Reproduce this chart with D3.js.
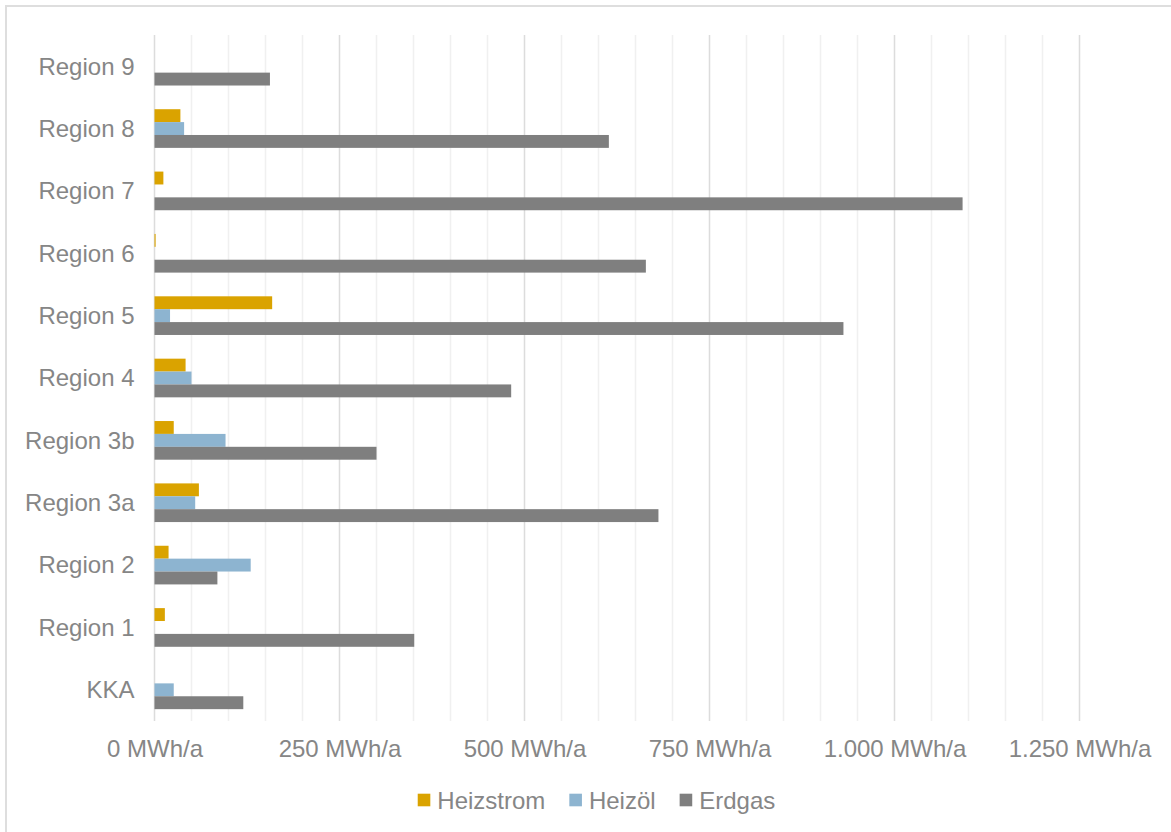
<!DOCTYPE html>
<html lang="de">
<head>
<meta charset="utf-8">
<title>Wärmebedarf nach Energieträger und Region</title>
<script src="https://cdn.jsdelivr.net/npm/d3@7"></script>
<style>
  html, body { margin: 0; padding: 0; background: #ffffff; }
  svg { display: block; }
  text { font-family: "Liberation Sans", Arial, sans-serif; fill: #868686; }
</style>
</head>
<body>
<svg id="chart" width="1171" height="832"></svg>
<script>
// Regions, listed top to bottom
const categories = ["Region 9", "Region 8", "Region 7", "Region 6", "Region 5", "Region 4",
                    "Region 3b", "Region 3a", "Region 2", "Region 1", "KKA"];
// Annual demand per energy carrier, MWh/a
const heizstrom = [0, 35, 12, 1.5, 159, 42, 26, 60, 19, 14, 0];
const heizoel   = [0, 40, 0, 0, 21, 50, 96, 55, 130, 0, 26];
const erdgas    = [156, 614, 1092, 664, 931, 482, 300, 681, 85, 351, 120];
const seriesNames = ["Heizstrom", "Heizöl", "Erdgas"];
const xTicks = [0, 250, 500, 750, 1000, 1250];

const seriesValues = [heizstrom, heizoel, erdgas];
const colors = d3.scaleOrdinal().domain(seriesNames).range(["#daa300", "#8db4d0", "#7f7f7f"]);

const fontSize = 24;
const plot = { left: 154.5, right: 1079.5, top: 35, bottom: 721 };

const svg = d3.select("#chart");

// Outer chart frame
svg.append("rect")
  .attr("x", 6).attr("y", 6)
  .attr("width", 1300).attr("height", 1000)
  .attr("fill", "none")
  .attr("stroke", "#dedede")
  .attr("stroke-width", 2);

const x = d3.scaleLinear().domain([0, 1250]).range([plot.left, plot.right]);
const y0 = d3.scaleBand().domain(categories).range([plot.top, plot.bottom])
  .paddingInner(0.38).paddingOuter(0.19);
const y1 = d3.scaleBand().domain(seriesNames).range([0, y0.bandwidth()]);

// Vertical gridlines: light minor lines every 50, darker major lines every 250
const gridVals = d3.range(0, 1251, 50);
svg.append("g").selectAll("line")
  .data(gridVals)
  .join("line")
  .attr("x1", d => x(d)).attr("x2", d => x(d))
  .attr("y1", plot.top).attr("y2", plot.bottom)
  .attr("stroke", d => d % 250 === 0 ? "#dcdcdc" : "#f0f0f0")
  .attr("stroke-width", 1.5);

// Bars
const rows = categories.map((c, i) => ({
  category: c,
  values: seriesNames.map((s, j) => ({ series: s, value: seriesValues[j][i] }))
}));

const groups = svg.append("g").selectAll("g")
  .data(rows)
  .join("g")
  .attr("transform", d => `translate(0,${y0(d.category)})`);

groups.selectAll("rect")
  .data(d => d.values)
  .join("rect")
  .attr("x", x(0))
  .attr("y", d => y1(d.series))
  .attr("width", d => x(d.value) - x(0))
  .attr("height", y1.bandwidth())
  .attr("fill", d => colors(d.series));

// German number format: 1.000
const de = d3.formatLocale({ decimal: ",", thousands: ".", grouping: [3], currency: ["", " €"] });
const fmt = de.format(",");

// Value axis labels
const xAxis = svg.append("g")
  .attr("transform", `translate(0,${plot.bottom})`)
  .call(d3.axisBottom(x).tickValues(xTicks).tickSize(0).tickFormat(d => fmt(d) + " MWh/a"));
xAxis.select(".domain").remove();
xAxis.selectAll("text")
  .attr("y", 36).attr("dy", 0)
  .style("font-size", fontSize + "px")
  .attr("fill", "#868686");

// Category labels
const yAxis = svg.append("g")
  .attr("transform", `translate(${plot.left},0)`)
  .call(d3.axisLeft(y0).tickSize(0).tickPadding(20));
yAxis.select(".domain").remove();
yAxis.selectAll("text")
  .attr("dy", "0.35em")
  .style("font-size", fontSize + "px")
  .attr("fill", "#868686");

// Legend, centred below the axis
const legend = svg.append("g");
const items = legend.selectAll("g")
  .data(seriesNames)
  .join("g");
const marker = 12.6, gapText = 7, gapItem = 24;
items.append("rect")
  .attr("width", marker).attr("height", marker)
  .attr("y", -marker / 2 - 1)
  .attr("fill", d => colors(d));
items.append("text")
  .attr("x", marker + gapText)
  .attr("dy", "0.35em")
  .style("font-size", fontSize + "px")
  .attr("fill", "#868686")
  .text(d => d);

let offset = 0;
const widths = [];
items.each(function () {
  const w = marker + gapText + d3.select(this).select("text").node().getComputedTextLength();
  widths.push(w);
});
const total = d3.sum(widths) + gapItem * (widths.length - 1);
const startX = 596.5 - total / 2;
items.attr("transform", (d, i) => {
  const t = `translate(${startX + offset},801)`;
  offset += widths[i] + gapItem;
  return t;
});
</script>
</body>
</html>
